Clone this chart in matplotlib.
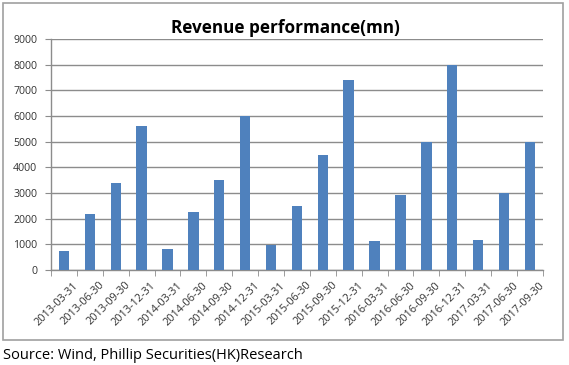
import numpy as np
import matplotlib
matplotlib.use('Agg')
import matplotlib.pyplot as plt
from matplotlib.patches import Rectangle
from matplotlib.transforms import ScaledTranslation

# Quarterly revenue (mn)
Quarters = ['2013-03-31', '2013-06-30', '2013-09-30', '2013-12-31',
            '2014-03-31', '2014-06-30', '2014-09-30', '2014-12-31',
            '2015-03-31', '2015-06-30', '2015-09-30', '2015-12-31',
            '2016-03-31', '2016-06-30', '2016-09-30', '2016-12-31',
            '2017-03-31', '2017-06-30', '2017-09-30']
Revenue = [750, 2200, 3400, 5600,
           820, 2250, 3500, 6000,
           980, 2500, 4480, 7400,
           1120, 2930, 4980, 8000,
           1160, 2990, 5000]
YTicks = [0, 1000, 2000, 3000, 4000, 5000, 6000, 7000, 8000, 9000]

BarColor = '#4F81BD'
GridColor = '#8C8C8C'

plt.rcParams['font.family'] = ['Open Sans', 'DejaVu Sans']

fig = plt.figure(figsize=(5.69, 3.65), dpi=100)
ax = fig.add_axes([0.0896, 0.260, 0.8644, 0.633])

x = np.arange(len(Quarters))
ax.bar(x, Revenue, width=0.4, color=BarColor, zorder=3)

ax.set_xlim(-0.5, len(Quarters) - 0.5)
ax.set_ylim(0, 9000)
ax.set_yticks(YTicks)
ax.set_yticklabels([str(v) for v in YTicks], fontsize=7.6, color='#333333')
ax.grid(axis='y', color=GridColor, linewidth=1.0, zorder=0)

# category labels, tick marks at the boundaries (excel style)
ax.set_xticks(x)
ax.set_xticklabels(Quarters, rotation=45, ha='right', rotation_mode='anchor',
                   fontsize=7.8, color='#333333')
ax.tick_params(axis='x', which='major', length=0, pad=7)
shift = ScaledTranslation(9 / 100, 0, fig.dpi_scale_trans)
for lbl in ax.get_xticklabels():
    lbl.set_transform(lbl.get_transform() + shift)
ax.set_xticks(np.arange(-0.5, len(Quarters)), minor=True)
ax.tick_params(axis='x', which='minor', length=4, color=GridColor, direction='out')
ax.tick_params(axis='y', length=4, color=GridColor, direction='out', pad=6)

for side in ['top', 'right']:
    ax.spines[side].set_visible(False)
for side in ['left', 'bottom']:
    ax.spines[side].set_color(GridColor)
    ax.spines[side].set_linewidth(1.0)

fig.text(0.502, 0.923, 'Revenue performance(mn)', ha='center', va='center',
         fontsize=12.3, fontweight='bold', color='black')

# outer chart frame
fig.patches.append(Rectangle((0.005, 0.068), 0.984, 0.923, transform=fig.transFigure,
                             fill=False, edgecolor='#A0A0A0', linewidth=1.2))

fig.text(0.005, 0.027, 'Source: Wind, Phillip Securities(HK)Research', ha='left', va='center',
         fontsize=10.5, color='black')

plt.savefig('out.png', dpi=100)
plt.close()
